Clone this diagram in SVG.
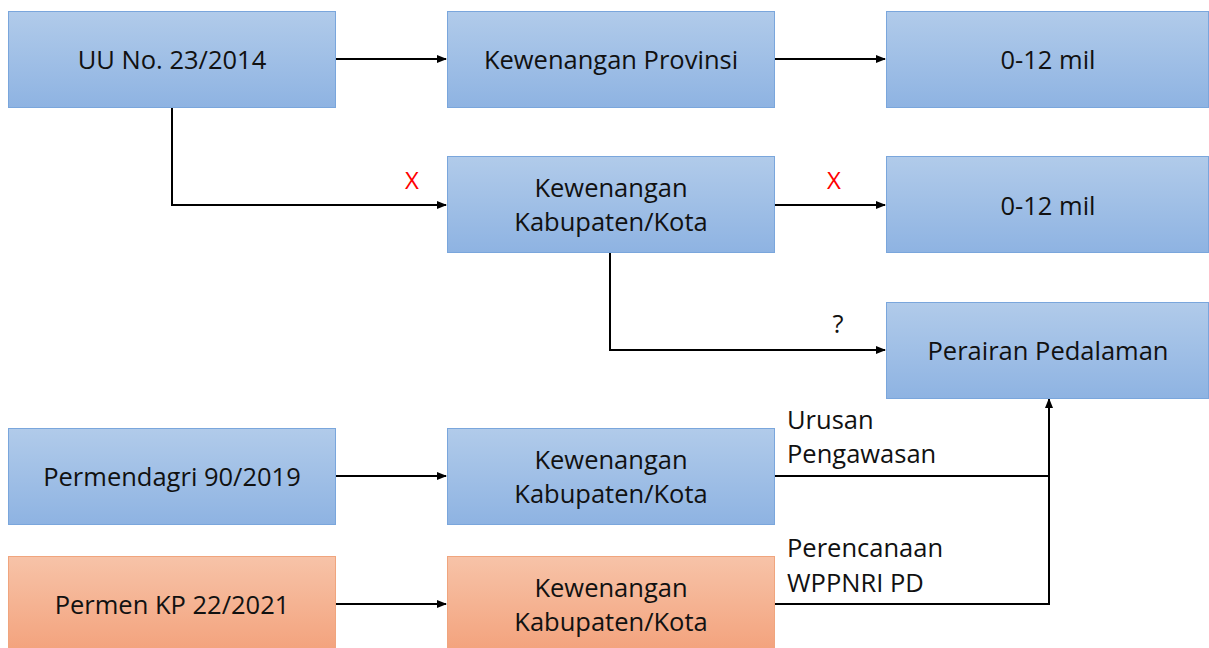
<svg xmlns="http://www.w3.org/2000/svg" width="1209" height="648" viewBox="0 0 1209 648">
<defs>
<linearGradient id="gb" x1="0" y1="0" x2="0" y2="1"><stop offset="0" stop-color="#b1cbea"/><stop offset="1" stop-color="#8eb3e2"/></linearGradient>
<linearGradient id="go" x1="0" y1="0" x2="0" y2="1"><stop offset="0" stop-color="#f7c3a8"/><stop offset="1" stop-color="#f3a27c"/></linearGradient>
<marker id="ar" markerWidth="10" markerHeight="8" refX="9" refY="4" orient="auto" markerUnits="userSpaceOnUse"><path d="M0,0 L10,4 L0,8 z" fill="#000"/></marker>
<style>
.b{fill:url(#gb);stroke:#7aa6dc;stroke-width:1}
.o{fill:url(#go);stroke:#f0a57e;stroke-width:1}
.t{font-family:"Open Sans","Liberation Sans",sans-serif;font-size:25.5px;fill:#111;text-anchor:middle}
.l{font-family:"Open Sans","Liberation Sans",sans-serif;font-size:25.5px;fill:#111}
.x{font-family:"Open Sans","Liberation Sans",sans-serif;font-size:24px;fill:#ff0000;text-anchor:middle}
.c{fill:none;stroke:#000;stroke-width:2}
</style>
</defs>
<g id="connectors">
<path class="c" d="M335,59 H446" marker-end="url(#ar)"/>
<path class="c" d="M774,59 H885" marker-end="url(#ar)"/>
<path class="c" d="M172,107 V205 H446" marker-end="url(#ar)"/>
<path class="c" d="M774,205 H885" marker-end="url(#ar)"/>
<path class="c" d="M610,252 V350 H885" marker-end="url(#ar)"/>
<path class="c" d="M335,476 H446" marker-end="url(#ar)"/>
<path class="c" d="M335,604 H446" marker-end="url(#ar)"/>
<path class="c" d="M774,476 H1049"/>
<path class="c" d="M774,604 H1049 V399" marker-end="url(#ar)"/>
<text class="x" x="412" y="189">X</text>
<text class="x" x="834" y="189">X</text>
<text class="t" x="838" y="333">?</text>
<text class="l" x="787" y="429">Urusan</text>
<text class="l" x="787" y="463">Pengawasan</text>
<text class="l" x="787" y="557">Perencanaan</text>
<text class="l" x="787" y="592">WPPNRI PD</text>
</g>
<g id="n1"><rect class="b" x="8.5" y="11.5" width="327" height="96"/><text class="t" x="172" y="69">UU No. 23/2014</text></g>
<g id="n2"><rect class="b" x="447.5" y="11.5" width="327" height="96"/><text class="t" x="611" y="69">Kewenangan Provinsi</text></g>
<g id="n3"><rect class="b" x="886.5" y="11.5" width="322" height="96"/><text class="t" x="1048" y="69">0-12 mil</text></g>
<g id="n4"><rect class="b" x="447.5" y="156.5" width="327" height="96"/><text class="t" x="611" y="197">Kewenangan</text><text class="t" x="611" y="231">Kabupaten/Kota</text></g>
<g id="n5"><rect class="b" x="886.5" y="156.5" width="322" height="96"/><text class="t" x="1048" y="215">0-12 mil</text></g>
<g id="n6"><rect class="b" x="886.5" y="302.5" width="322" height="96"/><text class="t" x="1048" y="360">Perairan Pedalaman</text></g>
<g id="n7"><rect class="b" x="8.5" y="428.5" width="327" height="96"/><text class="t" x="172" y="486">Permendagri 90/2019</text></g>
<g id="n8"><rect class="b" x="447.5" y="428.5" width="327" height="96"/><text class="t" x="611" y="469">Kewenangan</text><text class="t" x="611" y="503">Kabupaten/Kota</text></g>
<g id="n9"><rect class="o" x="8.5" y="556.5" width="327" height="96"/><text class="t" x="172" y="614">Permen KP 22/2021</text></g>
<g id="n10"><rect class="o" x="447.5" y="556.5" width="327" height="96"/><text class="t" x="611" y="597">Kewenangan</text><text class="t" x="611" y="631">Kabupaten/Kota</text></g>
</svg>
